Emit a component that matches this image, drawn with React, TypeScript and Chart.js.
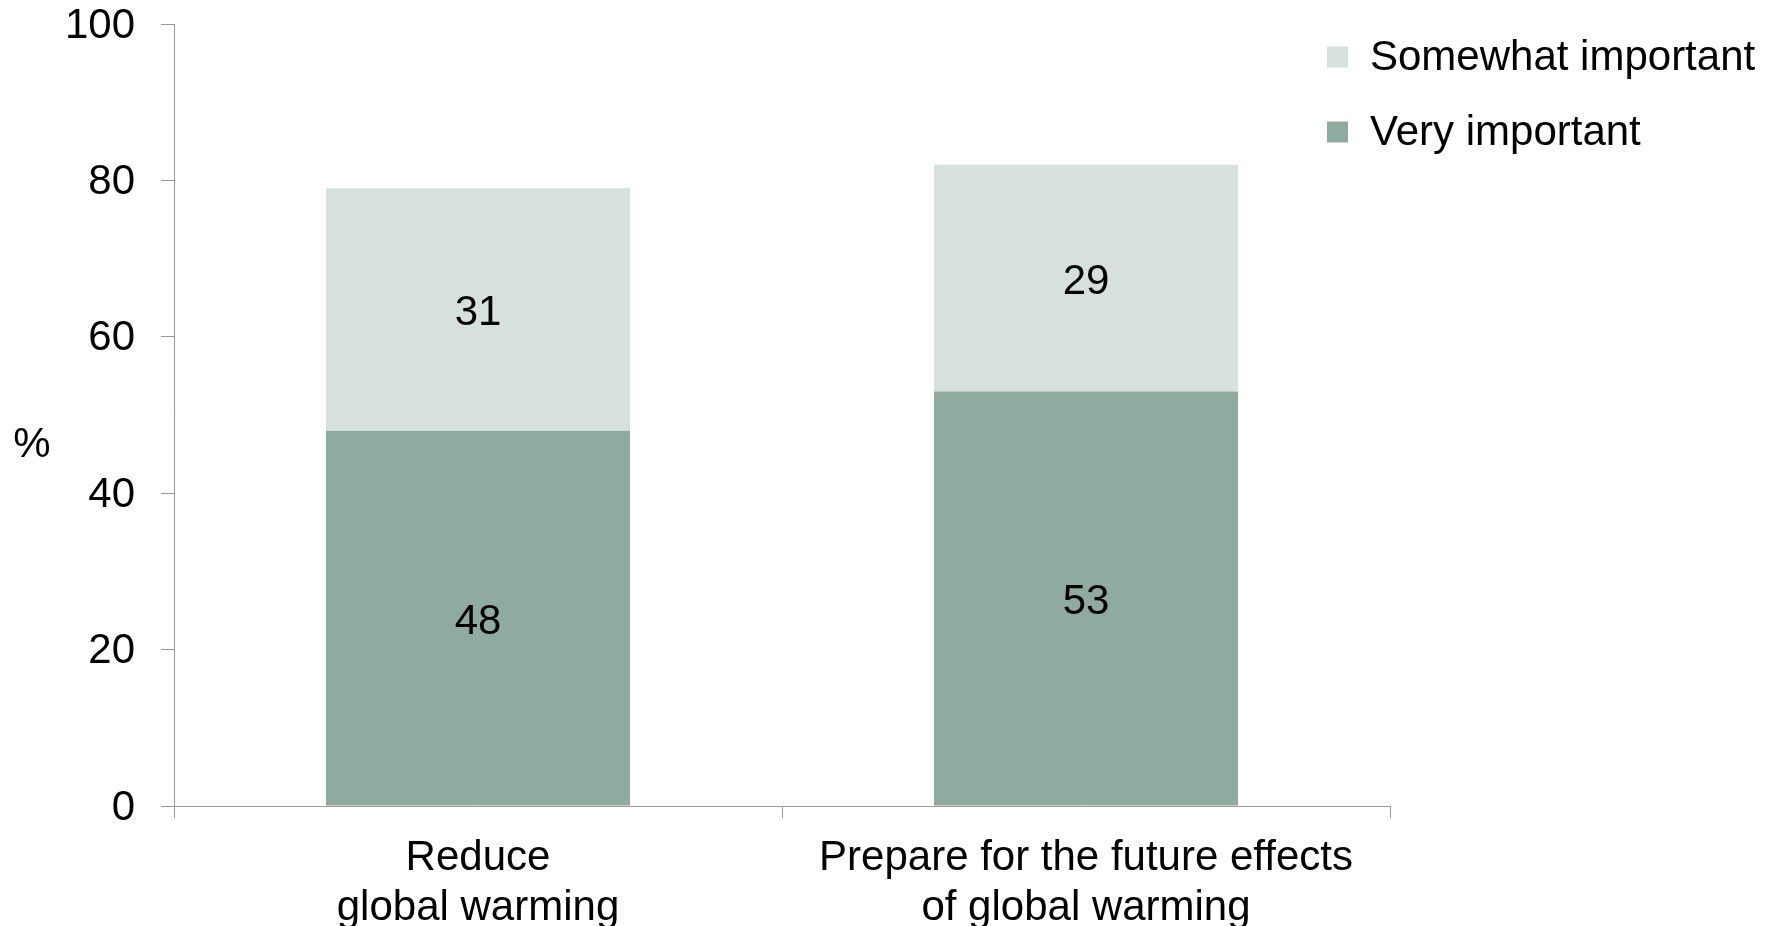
import React, { useEffect, useRef } from "react";
import { Chart, registerables } from "chart.js";

Chart.register(...registerables);

const categories: string[][] = [
  ["Reduce", "global warming"],
  ["Prepare for the future effects", "of global warming"],
];
const veryImportant: number[] = [48, 53];
const somewhatImportant: number[] = [31, 29];
const seriesNames: string[] = ["Very important", "Somewhat important"];
const seriesColors: string[] = ["#8FAA9E", "#D6E0DD"];
const yAxisLabel = "%";

const FONT = '"Liberation Sans", Arial, Helvetica, sans-serif';
const FS = 42;
const AXIS_COLOR = "#9A9A9A";

const valueLabelPlugin = {
  id: "valueLabels",
  afterDatasetsDraw(chart: any) {
    const ctx = chart.ctx;
    ctx.save();
    ctx.font = `${FS}px ${FONT}`;
    ctx.fillStyle = "#000";
    ctx.textAlign = "center";
    ctx.textBaseline = "middle";
    chart.data.datasets.forEach((ds: any, di: number) => {
      const meta = chart.getDatasetMeta(di);
      meta.data.forEach((el: any, i: number) => {
        const p = el.getProps(["x", "y", "base"], true);
        ctx.fillText(String(ds.data[i]), p.x, (p.y + p.base) / 2 + 4);
      });
    });
    ctx.restore();
  },
};

const customLegendPlugin = {
  id: "customLegend",
  afterDraw(chart: any) {
    const ctx = chart.ctx;
    ctx.save();
    ctx.font = `${FS}px ${FONT}`;
    ctx.textAlign = "left";
    ctx.textBaseline = "middle";
    const items = chart.data.datasets.map((d: any) => ({ label: d.label, color: d.backgroundColor })).reverse();
    const x0 = 1327;
    const y0 = 57;
    const rowGap = 75;
    items.forEach((it: any, i: number) => {
      const cy = y0 + i * rowGap;
      ctx.fillStyle = it.color;
      ctx.fillRect(x0, cy - 10.5, 21, 21);
      ctx.fillStyle = "#000";
      ctx.fillText(it.label, x0 + 43, cy + 1);
    });
    ctx.textAlign = "center";
    ctx.fillText(yAxisLabel, 32, 445);
    ctx.restore();
  },
};

export default function App() {
  const ref = useRef<HTMLCanvasElement | null>(null);
  useEffect(() => {
    if (!ref.current) return;
    const chart = new Chart(ref.current, {
      type: "bar",
      data: {
        labels: categories as any,
        datasets: [
          { label: seriesNames[0], data: veryImportant, backgroundColor: seriesColors[0] },
          { label: seriesNames[1], data: somewhatImportant, backgroundColor: seriesColors[1] },
        ],
      },
      options: {
        responsive: false,
        animation: false,
        devicePixelRatio: 1,
        layout: { padding: { left: 0, top: 24, right: 390, bottom: 0 } },
        plugins: {
          legend: { display: false },
          tooltip: { enabled: false },
        },
        datasets: { bar: { categoryPercentage: 1, barPercentage: 0.5 } },
        scales: {
          x: {
            stacked: true,
            offset: true,
            grid: { drawOnChartArea: false, tickLength: 12, color: AXIS_COLOR, lineWidth: 1 },
            border: { display: true, color: AXIS_COLOR, width: 1 },
            ticks: { color: "#000", font: { family: FONT, size: FS, lineHeight: 1.2 }, padding: 15, maxRotation: 0, autoSkip: false },
            afterFit: (s: any) => { s.height = 120; s.paddingLeft = 0; s.paddingRight = 0; },
          },
          y: {
            stacked: true,
            min: 0,
            max: 100,
            grid: { drawOnChartArea: false, tickLength: 13, color: AXIS_COLOR, lineWidth: 1 },
            border: { display: true, color: AXIS_COLOR, width: 1 },
            ticks: { stepSize: 20, color: "#000", font: { family: FONT, size: FS, lineHeight: 1.1 }, padding: 26, labelOffset: 2 },
            afterFit: (s: any) => { s.width = 174; s.paddingTop = 0; s.paddingBottom = 0; },
          },
        },
      },
      plugins: [valueLabelPlugin, customLegendPlugin],
    });
    return () => chart.destroy();
  }, []);
  return (
    <div style={{ position: "fixed", left: 0, top: 0, width: 1780, height: 926, background: "#fff" }}>
      <canvas ref={ref} width={1780} height={926} style={{ display: "block" }} />
    </div>
  );
}
